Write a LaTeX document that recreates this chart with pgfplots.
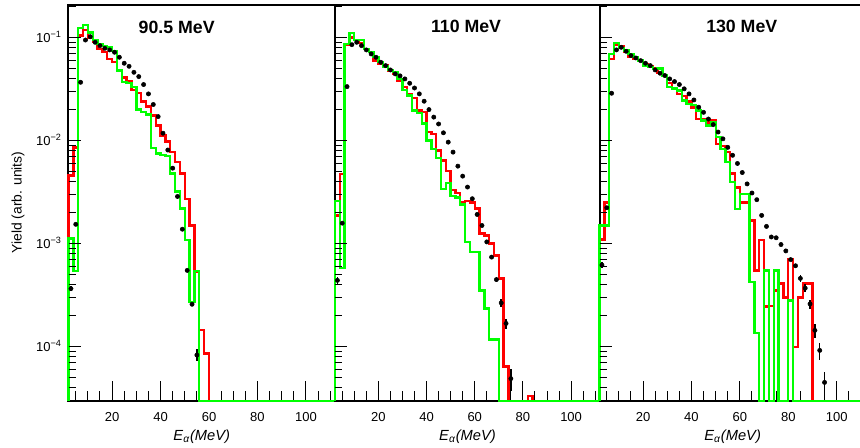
\documentclass[border=0pt]{standalone}
\usepackage{fontspec}
\setmainfont{Liberation Sans}
\usepackage{pgfplots}
\usepackage{pgfplotstable}
\pgfplotsset{compat=1.18}

\definecolor{hred}{RGB}{255,0,0}
\definecolor{hgreen}{RGB}{0,255,0}

% ---------- 90.5 MeV ----------
\pgfplotstableread{
x y
2 2.97e-5
2 4.6e-3
4 8.6e-3
6 0.105
8 0.118
10 0.100
12 0.090
14 0.078
16 0.072
18 0.062
20 0.058
22 0.048
24 0.041
26 0.038
28 0.031
30 0.029
32 0.024
34 0.0215
36 0.0175
38 0.014
40 0.0112
42 0.0098
44 0.0077
46 0.0062
48 0.0048
50 0.0027
52 1.5e-3
54 5.3e-4
56 1.45e-4
58 8.6e-5
60 2.97e-5
112 2.97e-5
}\redA
\pgfplotstableread{
x y
2 2.97e-5
2 1.12e-3
4 5.4e-4
6 0.124
8 0.133
10 0.112
12 0.095
14 0.087
16 0.083
18 0.080
20 0.074
22 0.048
24 0.037
26 0.036
28 0.033
30 0.020
32 0.019
34 0.0179
36 0.0085
38 0.0075
40 0.0072
42 0.0071
44 0.0048
46 0.0032
48 0.0022
50 1.09e-3
52 2.7e-4
54 5.4e-4
56 2.97e-5
112 2.97e-5
}\greenA
\pgfplotstableread{
x y e
3 3.66e-4 1.9e-5
5 1.54e-3 0
7 0.0368 0
9 0.0946 0
11 0.102 0
13 0.090 0
15 0.0835 0
17 0.0787 0
19 0.0759 0
21 0.072 0
23 0.0644 0
25 0.0563 0
27 0.0526 0
29 0.046 0
31 0.0418 0
33 0.035 0
35 0.0284 0
37 0.0224 0
39 0.0171 0
41 0.0118 0
43 0.0081 0
45 0.0054 0
47 0.00287 0
49 1.38e-3 0
51 5.5e-4 0
53 2.58e-4 6e-6
55 8.3e-5 1.1e-5
}\dotA

% ---------- 110 MeV ----------
\pgfplotstableread{
x y
2 2.97e-5
2 1.88e-3
4 4.76e-3
6 0.0853
8 0.100
10 0.095
12 0.088
14 0.078
16 0.072
18 0.060
20 0.056
22 0.0534
24 0.048
26 0.0444
28 0.0382
30 0.033
32 0.0284
34 0.026
36 0.0196
38 0.0189
40 0.0121
42 0.0116
44 0.0080
46 0.0064
48 0.0051
50 0.0033
52 0.0031
54 0.0025
56 0.0026
58 0.0025
60 0.0022
62 1.25e-3
64 1.2e-3
66 1.0e-3
68 7.7e-4
70 4.6e-4
72 6.4e-5
74 2.97e-5
82 3.3e-5
84 2.97e-5
112 2.97e-5
}\redB
\pgfplotstableread{
x y
2 2.97e-5
2 2.6e-3
4 5.8e-4
6 0.0866
8 0.110
10 0.0946
12 0.0946
14 0.0775
16 0.072
18 0.0644
20 0.0576
22 0.0522
24 0.0485
26 0.046
28 0.0397
30 0.031
32 0.0274
34 0.0196
36 0.0185
38 0.0146
40 0.0100
42 0.0083
44 0.0068
46 0.0034
48 0.0039
50 0.0029
52 0.0028
54 0.0024
56 1.04e-3
58 8.3e-4
60 8.3e-4
62 3.5e-4
64 2.35e-4
66 1.17e-4
68 1.17e-4
70 2.97e-5
112 2.97e-5
}\greenB
\pgfplotstableread{
x y e
3 4.4e-4 3.3e-5
5 1.58e-3 0
7 0.0334 0
9 0.0853 0
11 0.090 0
13 0.0835 0
15 0.0759 0
17 0.0694 0
19 0.0644 0
21 0.0576 0
23 0.0534 0
25 0.0485 0
27 0.0444 0
29 0.0425 0
31 0.0397 0
33 0.036 0
35 0.0324 0
37 0.0284 0
39 0.0241 0
41 0.020 0
43 0.0169 0
45 0.0145 0
47 0.0119 0
49 0.00966 0
51 0.00773 0
53 0.00565 0
55 0.00452 0
57 0.00354 0
59 0.00273 0
61 1.92e-3 0
63 1.5e-3 0
65 1.04e-3 0
67 7.4e-4 0
69 4.48e-4 2.5e-5
71 2.66e-4 2.4e-5
73 1.68e-4 1.9e-5
75 4.9e-5 1.2e-5
}\dotB

% ---------- 130 MeV ----------
\pgfplotstableread{
x y
2 2.97e-5
2 1.1e-3
4 2.5e-3
6 0.062
8 0.085
10 0.082
12 0.072
14 0.0644
16 0.062
18 0.060
20 0.0555
22 0.053
24 0.050
26 0.045
28 0.043
30 0.036
32 0.032
34 0.0285
36 0.027
38 0.024
40 0.021
42 0.0163
44 0.0163
46 0.0150
48 0.0158
50 0.0093
52 0.0088
54 0.0078
56 0.0048
58 0.0035
60 0.0025
62 0.0025
64 1.68e-3
66 5.5e-4
68 1.08e-3
70 2.45e-4
72 2.5e-4
74 3.5e-4
76 4.1e-4
78 3.0e-4
80 7.1e-4
82 1.0e-4
84 3.0e-4
86 4.1e-4
88 4.1e-4
90 2.97e-5
112 2.97e-5
}\redC
\pgfplotstableread{
x y
2 2.97e-5
2 1.5e-3
4 1.5e-3
6 0.069
8 0.088
10 0.079
12 0.075
14 0.069
16 0.0644
18 0.060
20 0.0534
22 0.052
24 0.0497
26 0.050
28 0.0428
30 0.033
32 0.032
34 0.0306
36 0.0245
38 0.0227
40 0.022
42 0.0196
44 0.0157
46 0.014
48 0.0151
50 0.0108
52 0.0083
54 0.0062
56 0.00395
58 0.00218
60 0.00305
62 0.00305
64 4.25e-4
66 1.36e-4
68 2.97e-5
70 5.5e-4
72 2.97e-5
74 5.5e-4
76 2.97e-5
80 2.8e-4
82 2.97e-5
112 2.97e-5
}\greenC
\pgfplotstableread{
x y e
3 6.2e-4 4.6e-5
5 2.23e-3 0
7 0.0288 0
9 0.0759 0
11 0.0804 0
13 0.0736 0
15 0.0668 0
17 0.0634 0
19 0.0597 0
21 0.0563 0
23 0.0534 0
25 0.0485 0
27 0.0451 0
29 0.0428 0
31 0.0397 0
33 0.0374 0
35 0.035 0
37 0.0318 0
39 0.0284 0
41 0.0248 0
43 0.0211 0
45 0.0188 0
47 0.0162 0
49 0.0143 0
51 0.0121 0
53 0.0104 0
55 0.0086 0
57 0.0072 0
59 0.0060 0
61 0.0049 0
63 0.0038 0
65 0.0031 0
67 0.00267 0
69 1.88e-3 0
71 1.47e-3 0
73 1.16e-3 0
75 1.14e-3 0
77 9.8e-4 0
79 8.5e-4 0
81 7.0e-4 0
83 6.1e-4 2.4e-5
85 4.6e-4 3.2e-5
87 3.7e-4 3.3e-5
89 2.6e-4 2.6e-5
91 1.44e-4 2.2e-5
93 9.2e-5 1.7e-5
95 4.5e-5 1.2e-5
}\dotC

\begin{document}
\begin{tikzpicture}
\useasboundingbox (0,0) rectangle (645pt,335.25pt);

% panel 1 : data, frame and x ticks
\begin{axis}[scale only axis, width=199.875pt, height=297pt, at={(51.375pt,34.5pt)}, anchor=south west,
  ymode=log, xmin=2, xmax=112, ymin=2.97e-5, ymax=0.207, clip=false,
  axis line style={line width=1.5pt}, tick align=inside, xtick pos=left, ytick=\empty,
  xtick={20,40,60,80,100}, xticklabels={20,40,60,80,100}, minor xtick={5,10,...,110},
  major tick length=15pt, minor tick length=7.5pt, tick style={black, line width=0.75pt},
  xticklabel style={font=\fontsize{9.75}{11}\selectfont, anchor=center, yshift=-12pt}]
\addplot[color=hred, line width=1.75pt, const plot, mark=none] table {\redA};
\addplot[color=hgreen, line width=1.75pt, const plot, mark=none] table {\greenA};
\addplot[black, only marks, mark=*, mark size=1.6pt,
  error bars/.cd, y dir=both, y explicit, error mark=none,
  error bar style={line width=1.1pt}] table[x=x,y=y,y error=e] {\dotA};
\end{axis}
% panel 1 : y ticks
\begin{axis}[scale only axis, width=199.875pt, height=297pt, at={(51.375pt,34.5pt)}, anchor=south west,
  ymode=log, xmin=2, xmax=112, ymin=2.97e-5, ymax=0.207,
  axis line style={draw=none}, xtick=\empty, tick align=inside, ytick pos=left,
  ytick={1e-4,1e-3,1e-2,1e-1},
  minor ytick={4e-5,5e-5,6e-5,7e-5,8e-5,9e-5,2e-4,3e-4,4e-4,5e-4,6e-4,7e-4,8e-4,9e-4,2e-3,3e-3,4e-3,5e-3,6e-3,7e-3,8e-3,9e-3,2e-2,3e-2,4e-2,5e-2,6e-2,7e-2,8e-2,9e-2,0.2},
  major tick length=9pt, minor tick length=5.25pt, tick style={black, line width=0.75pt},
  yticklabel style={font=\fontsize{9.75}{11}\selectfont, anchor=base east, inner sep=0pt, xshift=-4.9pt, yshift=-3.4pt},
  yticklabels={10\textsuperscript{−4},10\textsuperscript{−3},10\textsuperscript{−2},10\textsuperscript{−1}}]
\end{axis}

% panel 2 : data, frame and x ticks
\begin{axis}[scale only axis, width=198.75pt, height=297pt, at={(251.25pt,34.5pt)}, anchor=south west,
  ymode=log, xmin=2, xmax=112, ymin=2.97e-5, ymax=0.207, clip=false,
  axis line style={line width=1.5pt}, tick align=inside, xtick pos=left, ytick=\empty,
  xtick={20,40,60,80,100}, xticklabels={20,40,60,80,100}, minor xtick={5,10,...,110},
  major tick length=15pt, minor tick length=7.5pt, tick style={black, line width=0.75pt},
  xticklabel style={font=\fontsize{9.75}{11}\selectfont, anchor=center, yshift=-12pt}]
\addplot[color=hred, line width=1.75pt, const plot, mark=none] table {\redB};
\addplot[color=hgreen, line width=1.75pt, const plot, mark=none] table {\greenB};
\addplot[black, only marks, mark=*, mark size=1.6pt,
  error bars/.cd, y dir=both, y explicit, error mark=none,
  error bar style={line width=1.1pt}] table[x=x,y=y,y error=e] {\dotB};
\end{axis}
% panel 2 : y ticks
\begin{axis}[scale only axis, width=198.75pt, height=297pt, at={(251.25pt,34.5pt)}, anchor=south west,
  ymode=log, xmin=2, xmax=112, ymin=2.97e-5, ymax=0.207,
  axis line style={draw=none}, xtick=\empty, tick align=inside, ytick pos=left,
  ytick={1e-4,1e-3,1e-2,1e-1},
  minor ytick={4e-5,5e-5,6e-5,7e-5,8e-5,9e-5,2e-4,3e-4,4e-4,5e-4,6e-4,7e-4,8e-4,9e-4,2e-3,3e-3,4e-3,5e-3,6e-3,7e-3,8e-3,9e-3,2e-2,3e-2,4e-2,5e-2,6e-2,7e-2,8e-2,9e-2,0.2},
  major tick length=9pt, minor tick length=5.25pt, tick style={black, line width=0.75pt},
  yticklabels={}]
\end{axis}

% panel 3 : data, frame and x ticks
\begin{axis}[scale only axis, width=199.65pt, height=297pt, at={(449.625pt,34.5pt)}, anchor=south west,
  ymode=log, xmin=2, xmax=112, ymin=2.97e-5, ymax=0.207, clip=false,
  axis line style={line width=1.5pt}, tick align=inside, xtick pos=left, ytick=\empty,
  xtick={20,40,60,80,100}, xticklabels={20,40,60,80,100}, minor xtick={5,10,...,110},
  major tick length=15pt, minor tick length=7.5pt, tick style={black, line width=0.75pt},
  xticklabel style={font=\fontsize{9.75}{11}\selectfont, anchor=center, yshift=-12pt}]
\addplot[color=hred, line width=1.75pt, const plot, mark=none] table {\redC};
\addplot[color=hgreen, line width=1.75pt, const plot, mark=none] table {\greenC};
\addplot[black, only marks, mark=*, mark size=1.6pt,
  error bars/.cd, y dir=both, y explicit, error mark=none,
  error bar style={line width=1.1pt}] table[x=x,y=y,y error=e] {\dotC};
\end{axis}
% panel 3 : y ticks
\begin{axis}[scale only axis, width=199.65pt, height=297pt, at={(449.625pt,34.5pt)}, anchor=south west,
  ymode=log, xmin=2, xmax=112, ymin=2.97e-5, ymax=0.207,
  axis line style={draw=none}, xtick=\empty, tick align=inside, ytick pos=left,
  ytick={1e-4,1e-3,1e-2,1e-1},
  minor ytick={4e-5,5e-5,6e-5,7e-5,8e-5,9e-5,2e-4,3e-4,4e-4,5e-4,6e-4,7e-4,8e-4,9e-4,2e-3,3e-3,4e-3,5e-3,6e-3,7e-3,8e-3,9e-3,2e-2,3e-2,4e-2,5e-2,6e-2,7e-2,8e-2,9e-2,0.2},
  major tick length=9pt, minor tick length=5.25pt, tick style={black, line width=0.75pt},
  yticklabels={}]
\end{axis}

% titles and labels
\node[font=\fontsize{13.3}{15}\selectfont\bfseries] at (132.5pt,315pt) {90.5 MeV};
\node[font=\fontsize{13.3}{15}\selectfont\bfseries] at (349.5pt,315.2pt) {110 MeV};
\node[font=\fontsize{13.3}{15}\selectfont\bfseries] at (556.3pt,315.2pt) {130 MeV};
\node[rotate=90, font=\fontsize{10.4}{12}\selectfont] at (13.5pt,183.4pt) {Yield (arb. units)};
\foreach \xc in {151.3pt,350.6pt,549.45pt}
  \node[font=\fontsize{11}{13}\selectfont] at (\xc,7.5pt) {\textit{E}\textsubscript{\textit{α}}\textit{(MeV)}};
\end{tikzpicture}
\end{document}
